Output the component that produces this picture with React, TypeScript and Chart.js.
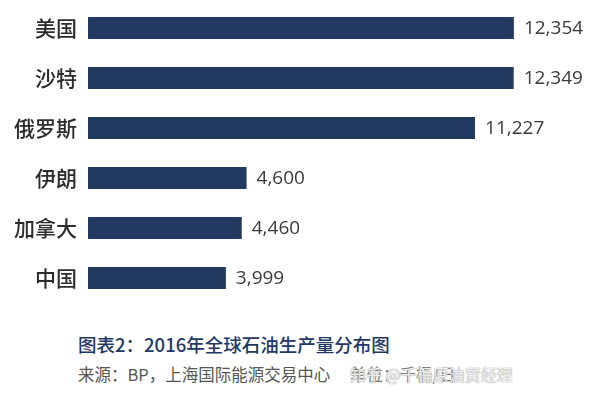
import React, { useEffect, useRef } from "react";
import { Chart, registerables } from "chart.js";

Chart.register(...registerables);

const categories = ["美国", "沙特", "俄罗斯", "伊朗", "加拿大", "中国"];
const production = [12354, 12349, 11227, 4600, 4460, 3999];
const xMax = 14620;

const barColor = "#223962";
const cjk = '"Noto Sans CJK SC", "Noto Sans", sans-serif';

const valueLabels = {
  id: "valueLabels",
  afterDatasetsDraw(chart: any) {
    const ctx = chart.ctx;
    const meta = chart.getDatasetMeta(0);
    ctx.save();
    ctx.font = '19px "Open Sans", sans-serif';
    ctx.fillStyle = "#3a3a3a";
    ctx.textAlign = "left";
    ctx.textBaseline = "middle";
    meta.data.forEach((bar: any, i: number) => {
      const v = chart.data.datasets[0].data[i] as number;
      ctx.fillText(v.toLocaleString("en-US"), bar.x + 10, bar.y + 1);
    });
    ctx.restore();
  },
};

export default function App() {
  const ref = useRef<HTMLCanvasElement>(null);
  useEffect(() => {
    if (!ref.current) return;
    const chart = new Chart(ref.current, {
      type: "bar",
      data: {
        labels: categories,
        datasets: [
          {
            data: production,
            backgroundColor: barColor,
            barPercentage: 0.44,
            categoryPercentage: 1,
          },
        ],
      },
      options: {
        indexAxis: "y",
        animation: false,
        responsive: false,
        maintainAspectRatio: false,
        layout: { padding: { top: 3, bottom: 3, left: 0, right: 8 } },
        plugins: { legend: { display: false }, tooltip: { enabled: false } },
        scales: {
          x: { display: false, min: 0, max: xMax },
          y: {
            grid: { display: false, drawTicks: false },
            border: { display: false },
            ticks: {
              color: "#2b2b2b",
              font: { family: cjk, size: 21, weight: "500" },
              padding: 11,
            },
            afterFit(scale: any) {
              scale.width = 88;
              scale.paddingTop = 0;
              scale.paddingBottom = 0;
            },
          },
        },
      },
      plugins: [valueLabels],
    });
    return () => chart.destroy();
  }, []);

  return (
    <div
      style={{
        position: "fixed",
        left: 0,
        top: 0,
        width: 600,
        height: 401,
        background: "#ffffff",
        fontFamily: cjk,
      }}
    >
      <canvas ref={ref} width={600} height={306} style={{ display: "block" }} />
      <div
        style={{
          position: "absolute",
          left: 78,
          top: 331,
          fontSize: 18.5,
          fontWeight: 500,
          color: "#1f3864",
          lineHeight: "26px",
          whiteSpace: "nowrap",
        }}
      >
        图表2：2016年全球石油生产量分布图
      </div>
      <div
        style={{
          position: "absolute",
          left: 78,
          top: 362,
          fontSize: 16.5,
          color: "#555555",
          lineHeight: "24px",
          whiteSpace: "nowrap",
        }}
      >
        来源：BP，上海国际能源交易中心
      </div>
      <div
        style={{
          position: "absolute",
          left: 350,
          top: 362,
          fontSize: 16.5,
          color: "#777777",
          lineHeight: "24px",
          whiteSpace: "nowrap",
        }}
      >
        单位：千桶/日
      </div>
      <div
        style={{
          position: "absolute",
          left: 350,
          top: 362,
          fontSize: 16,
          color: "rgba(255,255,255,0.85)",
          lineHeight: "24px",
          whiteSpace: "nowrap",
          textShadow: "0 0 1px #999, 0 0 1px #999",
        }}
      >
        知乎 @千桶原油贾经理
      </div>
    </div>
  );
}
